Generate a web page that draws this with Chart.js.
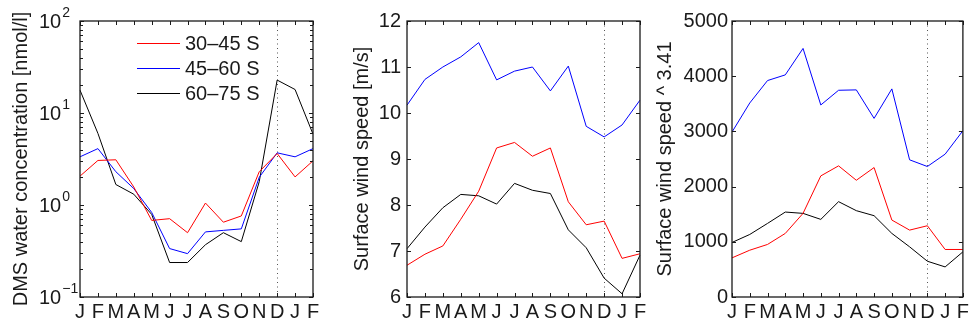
<!DOCTYPE html>
<html>
<head>
<meta charset="utf-8">
<script src="https://cdn.jsdelivr.net/npm/chart.js@4.4.0/dist/chart.umd.min.js"></script>
<style>
  html, body { margin: 0; padding: 0; background: #fff; width: 972px; height: 328px; overflow: hidden; }
  canvas { position: absolute; top: 0; }
</style>
</head>
<body>
<canvas id="dms" width="330" height="328" style="left:0px"></canvas>
<canvas id="wind" width="320" height="328" style="left:330px"></canvas>
<canvas id="cube" width="322" height="328" style="left:650px"></canvas>
<script>
// Months from January through the following February
const months = ['J', 'F', 'M', 'A', 'M', 'J', 'J', 'A', 'S', 'O', 'N', 'D', 'J', 'F'];
const bandLabels = ['30\u201345 S', '45\u201360 S', '60\u201375 S'];
const bandColors = ['#ff0000', '#0000ff', '#000000'];
const decemberIndex = 11;

// DMS water concentration [nmol/l]
const dms30 = [2.06, 3.05, 3.1, 1.57, 0.68, 0.71, 0.50, 1.05, 0.65, 0.76, 2.3, 3.63, 2.02, 3.02];
const dms45 = [3.34, 4.1, 2.3, 1.51, 0.83, 0.336, 0.296, 0.51, 0.53, 0.55, 2.0, 3.69, 3.34, 4.1];
const dms60 = [17.7, 6.0, 1.67, 1.31, 0.79, 0.237, 0.237, 0.37, 0.50, 0.40, 1.79, 22.8, 18.0, 5.9];

// Surface wind speed [m/s]
const wind30 = [6.69, 6.93, 7.11, 7.69, 8.3, 9.24, 9.36, 9.06, 9.24, 8.07, 7.57, 7.65, 6.84, 6.94];
const wind45 = [10.17, 10.73, 11.0, 11.22, 11.53, 10.72, 10.91, 11.0, 10.48, 11.02, 9.71, 9.48, 9.74, 10.28];
const wind60 = [7.05, 7.52, 7.94, 8.23, 8.20, 8.02, 8.47, 8.32, 8.25, 7.46, 7.07, 6.41, 6.07, 6.91];

// Surface wind speed ^ 3.41
const cube30 = [709, 848, 952, 1152, 1515, 2194, 2376, 2115, 2345, 1394, 1212, 1291, 861, 861];
const cube45 = [2988, 3515, 3921, 4024, 4503, 3479, 3745, 3752, 3236, 3770, 2485, 2364, 2588, 3012];
const cube60 = [988, 1133, 1333, 1539, 1515, 1406, 1727, 1564, 1473, 1152, 909, 648, 545, 818];

// Axis ticks
const dmsPowers = [-1, 0, 1, 2];
const windTicks = [6, 7, 8, 9, 10, 11, 12];
const cubeTicks = [0, 1000, 2000, 3000, 4000, 5000];

const FONT = '"Liberation Sans", Arial, Helvetica, sans-serif';
const INK = '#1a1a1a';
const TICK_IN = 4;

// Frame around the plot area, inward tick marks on all four sides,
// the dotted December marker, decade labels and an in-plot legend.
const framePlugin = {
  id: 'frame',
  beforeDatasetsDraw(chart, args, o) {
    const { ctx, chartArea: a, scales: { x } } = chart;
    const px = Math.round(x.getPixelForValue(o.markIndex)) + 0.5;
    ctx.save();
    ctx.strokeStyle = '#555';
    ctx.lineWidth = 1;
    ctx.setLineDash([1, 3.5]);
    ctx.beginPath();
    ctx.moveTo(px, a.top);
    ctx.lineTo(px, a.bottom);
    ctx.stroke();
    ctx.restore();
  },
  afterDraw(chart, args, o) {
    const { ctx, chartArea: a, scales: { x, y } } = chart;
    ctx.save();
    ctx.strokeStyle = INK;
    ctx.lineWidth = 1;
    ctx.beginPath();
    months.forEach((m, i) => {
      const px = Math.round(x.getPixelForValue(i)) + 0.5;
      ctx.moveTo(px, a.bottom); ctx.lineTo(px, a.bottom - TICK_IN);
      ctx.moveTo(px, a.top); ctx.lineTo(px, a.top + TICK_IN);
    });
    y.ticks.forEach(t => {
      const py = Math.round(y.getPixelForValue(t.value)) + 0.5;
      ctx.moveTo(a.left, py); ctx.lineTo(a.left + TICK_IN, py);
      ctx.moveTo(a.right, py); ctx.lineTo(a.right - TICK_IN, py);
    });
    (o.minor || []).forEach(v => {
      const py = Math.round(y.getPixelForValue(v)) + 0.5;
      ctx.moveTo(a.left, py); ctx.lineTo(a.left + 3, py);
      ctx.moveTo(a.right, py); ctx.lineTo(a.right - 3, py);
    });
    ctx.stroke();
    ctx.lineWidth = 1.3;
    ctx.strokeRect(a.left, a.top, a.right - a.left, a.bottom - a.top);

    if (o.powers) {
      ctx.fillStyle = INK;
      ctx.textAlign = 'left';
      ctx.textBaseline = 'middle';
      o.powers.forEach(p => {
        const py = y.getPixelForValue(Math.pow(10, p));
        const bx = a.left - 41;
        ctx.font = '20px ' + FONT;
        ctx.fillText('10', bx, py + 1);
        const w = ctx.measureText('10').width;
        ctx.font = '14px ' + FONT;
        ctx.fillText(p < 0 ? '\u2212' + (-p) : String(p), bx + w + 1, py - 8);
      });
    }

    if (o.legend) {
      ctx.font = '20px ' + FONT;
      ctx.textAlign = 'left';
      ctx.textBaseline = 'middle';
      chart.data.datasets.forEach((ds, i) => {
        const ly = o.legend.y + i * o.legend.gap + 0.5;
        ctx.strokeStyle = ds.borderColor;
        ctx.lineWidth = 1;
        ctx.beginPath();
        ctx.moveTo(o.legend.x, ly);
        ctx.lineTo(o.legend.x + o.legend.len, ly);
        ctx.stroke();
        ctx.fillStyle = INK;
        ctx.fillText(ds.label, o.legend.x + o.legend.len + 5, ly + 1);
      });
    }
    ctx.restore();
  }
};

function makeDatasets(a, b, c) {
  return [a, b, c].map((d, i) => ({
    label: bandLabels[i],
    data: d,
    borderColor: bandColors[i],
    borderWidth: 1,
    pointRadius: 0,
    tension: 0,
    fill: false
  }));
}

function makePanel(id, datasets, yScale, axisWidth, rightPad, frameOpts) {
  return new Chart(document.getElementById(id), {
    type: 'line',
    data: { labels: months, datasets },
    options: {
      responsive: false,
      animation: false,
      events: [],
      layout: { padding: { top: 21, right: rightPad, bottom: 0, left: 0 } },
      plugins: {
        legend: { display: false },
        tooltip: { enabled: false },
        frame: frameOpts
      },
      scales: {
        x: {
          type: 'category',
          offset: false,
          grid: { display: false, drawTicks: false },
          border: { display: false },
          ticks: {
            font: { family: FONT, size: 20 },
            color: INK,
            padding: 3,
            maxRotation: 0,
            autoSkip: false
          },
          afterFit(s) { s.height = 31; }
        },
        y: Object.assign({
          grid: { display: false, drawTicks: false },
          border: { display: false },
          afterFit(s) { s.width = axisWidth; }
        }, yScale)
      }
    },
    plugins: [framePlugin]
  });
}

function titleOf(text, top) {
  return {
    display: true,
    text,
    color: INK,
    font: { family: FONT, size: 20 },
    padding: { top, bottom: 0 }
  };
}

function plainTicks(padding) {
  return {
    font: { family: FONT, size: 20 },
    color: INK,
    padding,
    callback: v => String(v)
  };
}

const dmsMinor = [];
[-1, 0, 1].forEach(p => {
  for (let k = 2; k <= 9; k++) dmsMinor.push(k * Math.pow(10, p));
});

makePanel('dms', makeDatasets(dms30, dms45, dms60), {
  type: 'logarithmic',
  min: Math.pow(10, dmsPowers[0]),
  max: Math.pow(10, dmsPowers[dmsPowers.length - 1]),
  ticks: { display: false },
  afterBuildTicks(s) { s.ticks = dmsPowers.map(p => ({ value: Math.pow(10, p) })); },
  title: titleOf('DMS water concentration [nmol/l]', 9)
}, 80, 17, {
  markIndex: decemberIndex,
  minor: dmsMinor,
  powers: dmsPowers,
  legend: { x: 137, y: 43, gap: 25, len: 43 }
});

makePanel('wind', makeDatasets(wind30, wind45, wind60), {
  type: 'linear',
  min: windTicks[0],
  max: windTicks[windTicks.length - 1],
  afterBuildTicks(s) { s.ticks = windTicks.map(v => ({ value: v })); },
  ticks: plainTicks(6),
  title: titleOf('Surface wind speed [m/s]', 20)
}, 77, 10, { markIndex: decemberIndex });

makePanel('cube', makeDatasets(cube30, cube45, cube60), {
  type: 'linear',
  min: cubeTicks[0],
  max: cubeTicks[cubeTicks.length - 1],
  afterBuildTicks(s) { s.ticks = cubeTicks.map(v => ({ value: v })); },
  ticks: plainTicks(4),
  title: titleOf('Surface wind speed ^ 3.41', 3)
}, 82, 6, { markIndex: decemberIndex });
</script>
</body>
</html>
